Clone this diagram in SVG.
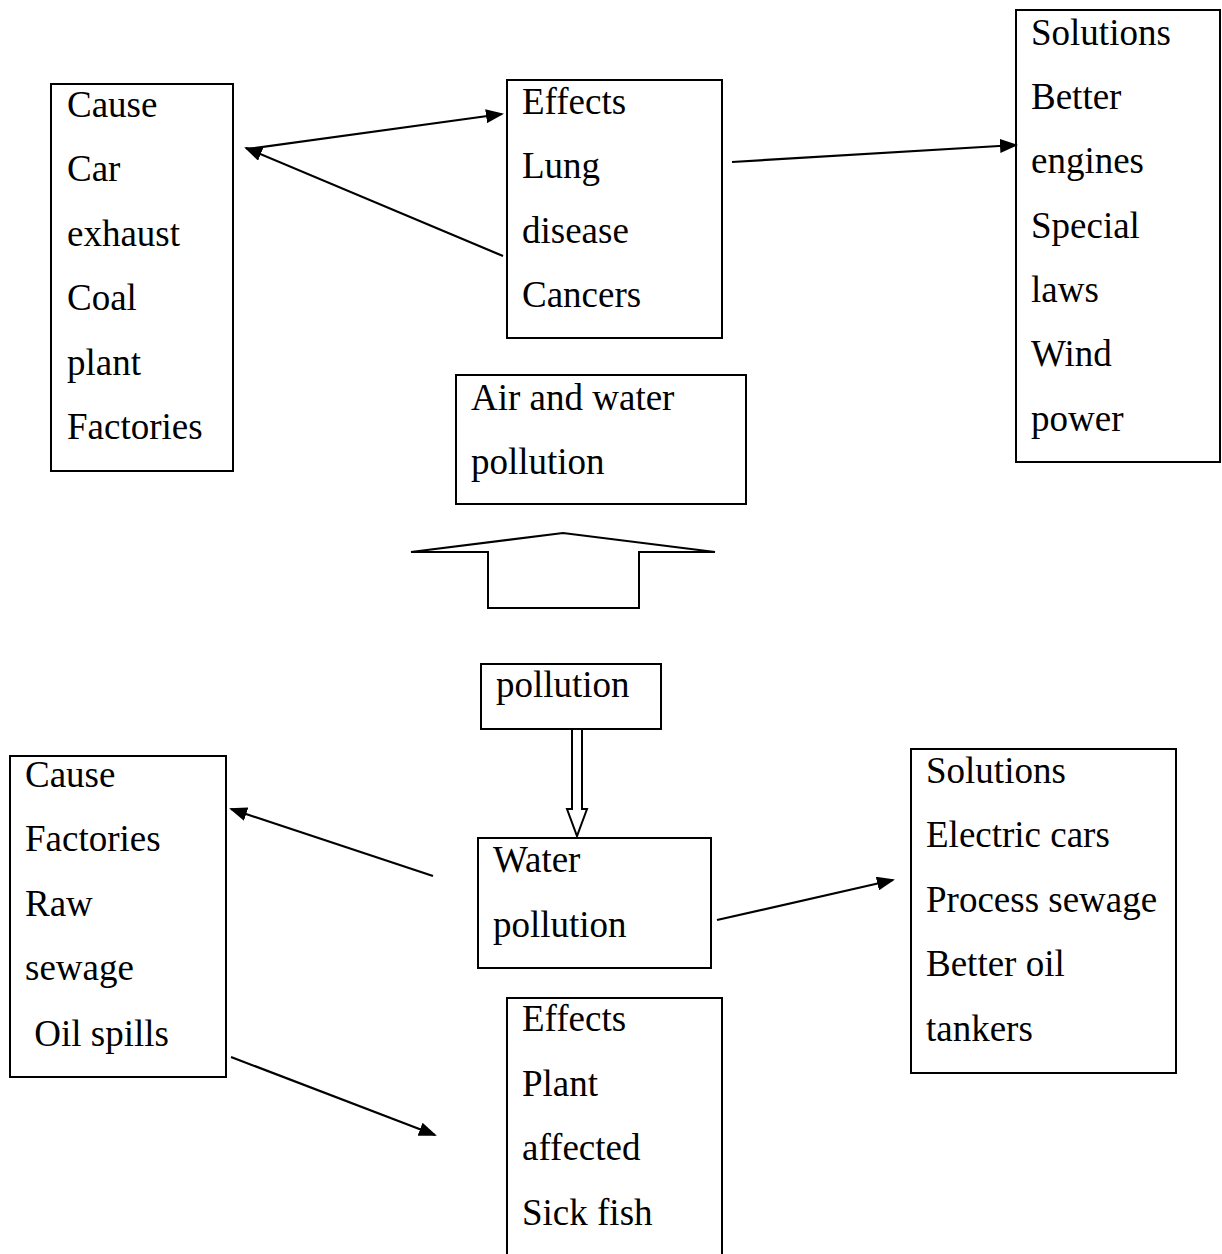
<svg xmlns="http://www.w3.org/2000/svg" width="1222" height="1254" viewBox="0 0 1222 1254">
<defs>
<style>
.box{fill:#fff;stroke:#000;stroke-width:2}
.t{font-family:"Liberation Serif","Tinos","Times New Roman",serif;font-size:37px;fill:#000}
.c{stroke:#000;stroke-width:2.2;fill:none}
.blk{fill:#fff;stroke:#000;stroke-width:2}
</style>
<marker id="ah" markerUnits="userSpaceOnUse" markerWidth="18" markerHeight="14" refX="16" refY="7" orient="auto">
<path d="M0,0 L18,7 L0,14 Z" fill="#000"/>
</marker>
</defs>
<rect width="1222" height="1254" fill="#fff"/>

<g id="cause-top">
<rect class="box" x="51" y="84" width="182" height="387"/>
<text class="t" x="67" y="117">Cause</text>
<text class="t" x="67" y="181">Car</text>
<text class="t" x="67" y="246">exhaust</text>
<text class="t" x="67" y="310">Coal</text>
<text class="t" x="67" y="375">plant</text>
<text class="t" x="67" y="439">Factories</text>
</g>

<g id="effects-top">
<rect class="box" x="507" y="80" width="215" height="258"/>
<text class="t" x="522" y="114">Effects</text>
<text class="t" x="522" y="178">Lung</text>
<text class="t" x="522" y="243">disease</text>
<text class="t" x="522" y="307">Cancers</text>
</g>

<g id="solutions-top">
<rect class="box" x="1016" y="10" width="204" height="452"/>
<text class="t" x="1031" y="45">Solutions</text>
<text class="t" x="1031" y="109">Better</text>
<text class="t" x="1031" y="173">engines</text>
<text class="t" x="1031" y="238">Special</text>
<text class="t" x="1031" y="302">laws</text>
<text class="t" x="1031" y="366">Wind</text>
<text class="t" x="1031" y="431">power</text>
</g>

<g id="air-water">
<rect class="box" x="456" y="375" width="290" height="129"/>
<text class="t" x="471" y="410">Air and water</text>
<text class="t" x="471" y="474">pollution</text>
</g>

<g id="pollution">
<rect class="box" x="481" y="664" width="180" height="65"/>
<text class="t" x="496" y="697">pollution</text>
</g>

<g id="cause-bottom">
<rect class="box" x="10" y="756" width="216" height="321"/>
<text class="t" x="25" y="787">Cause</text>
<text class="t" x="25" y="851">Factories</text>
<text class="t" x="25" y="916">Raw</text>
<text class="t" x="25" y="980">sewage</text>
<text class="t" x="25" y="1046" xml:space="preserve"> Oil spills</text>
</g>

<g id="water-pollution">
<rect class="box" x="478" y="838" width="233" height="130"/>
<text class="t" x="493" y="872">Water</text>
<text class="t" x="493" y="937">pollution</text>
</g>

<g id="effects-bottom">
<rect class="box" x="507" y="998" width="215" height="270"/>
<text class="t" x="522" y="1031">Effects</text>
<text class="t" x="522" y="1096">Plant</text>
<text class="t" x="522" y="1160">affected</text>
<text class="t" x="522" y="1225">Sick fish</text>
</g>

<g id="solutions-bottom">
<rect class="box" x="911" y="749" width="265" height="324"/>
<text class="t" x="926" y="783">Solutions</text>
<text class="t" x="926" y="847">Electric cars</text>
<text class="t" x="926" y="912">Process sewage</text>
<text class="t" x="926" y="976">Better oil</text>
<text class="t" x="926" y="1041">tankers</text>
</g>

<g id="connectors">
<line class="c" x1="248" y1="149" x2="502" y2="114" marker-end="url(#ah)"/>
<line class="c" x1="503" y1="256" x2="246" y2="148" marker-end="url(#ah)"/>
<line class="c" x1="732" y1="162" x2="1016" y2="145" marker-end="url(#ah)"/>
<line class="c" x1="433" y1="876" x2="231" y2="809" marker-end="url(#ah)"/>
<line class="c" x1="717" y1="920" x2="893" y2="880" marker-end="url(#ah)"/>
<line class="c" x1="231" y1="1057" x2="435" y2="1135" marker-end="url(#ah)"/>
<polygon class="blk" points="411,552 563,533 715,552 639,552 639,608 488,608 488,552"/>
<polygon class="blk" points="572,729 582,729 582,809 587,809 577,836 567,809 572,809"/>
</g>
</svg>
